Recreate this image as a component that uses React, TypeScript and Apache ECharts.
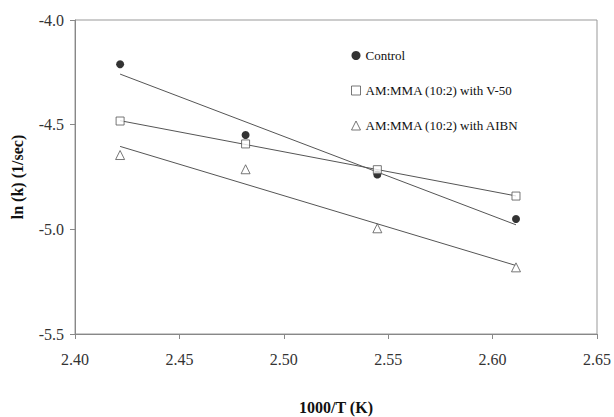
import React, { useEffect, useRef } from "react";
import * as echarts from "echarts";

const xValues = [2.4216, 2.4817, 2.5448, 2.6112];
const controlValues = [-4.2117, -4.549, -4.738, -4.951];
const v50Values = [-4.4826, -4.592, -4.715, -4.841];
const aibnValues = [-4.645, -4.713, -4.995, -5.1816];
const seriesNames = ["Control", "AM:MMA (10:2) with V-50", "AM:MMA (10:2) with AIBN"];
const xTicks = { min: 2.4, max: 2.65, interval: 0.05 };
const yTicks = { min: -5.5, max: -4.0, interval: 0.5 };

function fit(xs: number[], ys: number[]): number[][] {
  const n = xs.length;
  const mx = xs.reduce((a, b) => a + b, 0) / n;
  const my = ys.reduce((a, b) => a + b, 0) / n;
  let sxy = 0;
  let sxx = 0;
  for (let i = 0; i < n; i++) {
    sxy += (xs[i] - mx) * (ys[i] - my);
    sxx += (xs[i] - mx) * (xs[i] - mx);
  }
  const b = sxy / sxx;
  const a = my - b * mx;
  const x0 = Math.min(...xs);
  const x1 = Math.max(...xs);
  return [
    [x0, a + b * x0],
    [x1, a + b * x1],
  ];
}

const pairs = (ys: number[]) => xValues.map((x, i) => [x, ys[i]]);

export default function App() {
  const ref = useRef<HTMLDivElement>(null);
  useEffect(() => {
    if (!ref.current) return;
    const chart = echarts.init(ref.current, null, { renderer: "svg" });
    const font = "Liberation Serif";
    const lineStyle = { color: "#555", width: 1 };
    const tickRich = { t: { fontFamily: font, fontSize: 16, color: "#333" } };
    const trend = (ys: number[]) => ({
      type: "line",
      data: fit(xValues, ys),
      symbol: "none",
      lineStyle,
      silent: true,
      z: 1,
    });
    chart.setOption({
      animation: false,
      textStyle: { fontFamily: font },
      grid: {
        left: 75,
        top: 20,
        right: 17,
        bottom: 83,
        outerBoundsMode: "none",
        containLabel: false,
        show: true,
        borderColor: "#999",
        borderWidth: 1,
      },
      legend: {
        orient: "vertical",
        left: 346,
        top: 44,
        itemGap: 22,
        itemWidth: 9,
        itemHeight: 9,
        textStyle: { fontFamily: font, fontSize: 13, color: "#111" },
        data: [
          { name: seriesNames[0], icon: "circle", itemStyle: { color: "#000" } },
          {
            name: seriesNames[1],
            icon: "rect",
            itemStyle: { color: "#fff", borderColor: "#555", borderWidth: 1 },
          },
          {
            name: seriesNames[2],
            icon: "triangle",
            itemStyle: { color: "#fff", borderColor: "#555", borderWidth: 1 },
          },
        ],
      },
      xAxis: {
        type: "value",
        min: xTicks.min,
        max: xTicks.max,
        interval: xTicks.interval,
        name: "1000/T (K)",
        nameLocation: "middle",
        nameGap: 65,
        nameTextStyle: { fontFamily: font, fontSize: 16, fontWeight: "bold", color: "#111" },
        axisLine: { lineStyle: { color: "#888" } },
        axisTick: { inside: false, length: 5, lineStyle: { color: "#888" } },
        axisLabel: {
          fontFamily: font,
          fontSize: 16,
          color: "#333",
          margin: 17,
          rich: tickRich,
          formatter: (v: number) => "{t|" + v.toFixed(2) + "}",
        },
        splitLine: { show: false },
      },
      yAxis: {
        type: "value",
        min: yTicks.min,
        max: yTicks.max,
        interval: yTicks.interval,
        name: "ln (k) (1/sec)",
        nameLocation: "middle",
        nameGap: 50,
        nameRotate: 90,
        nameTextStyle: { fontFamily: font, fontSize: 16, fontWeight: "bold", color: "#111" },
        axisLine: { show: true, lineStyle: { color: "#888" } },
        axisTick: { show: true, inside: false, length: 5, lineStyle: { color: "#888" } },
        axisLabel: {
          fontFamily: font,
          fontSize: 16,
          color: "#333",
          margin: 11,
          rich: tickRich,
          formatter: (v: number) => "{t|" + v.toFixed(1) + "}",
        },
        splitLine: { show: false },
      },
      series: [
        {
          name: seriesNames[0],
          type: "scatter",
          data: pairs(controlValues),
          symbol: "circle",
          symbolSize: 8,
          itemStyle: { color: "#000" },
          z: 3,
        },
        {
          name: seriesNames[1],
          type: "scatter",
          data: pairs(v50Values),
          symbol: "rect",
          symbolSize: 8,
          itemStyle: { color: "#fff", borderColor: "#555", borderWidth: 1 },
          z: 3,
        },
        {
          name: seriesNames[2],
          type: "scatter",
          data: pairs(aibnValues),
          symbol: "triangle",
          symbolSize: 9,
          itemStyle: { color: "#fff", borderColor: "#555", borderWidth: 1 },
          z: 3,
        },
        trend(controlValues),
        trend(v50Values),
        trend(aibnValues),
      ],
    });
    return () => chart.dispose();
  }, []);
  return (
    <div
      ref={ref}
      style={{ position: "absolute", left: 0, top: 0, width: 614, height: 417 }}
    />
  );
}
